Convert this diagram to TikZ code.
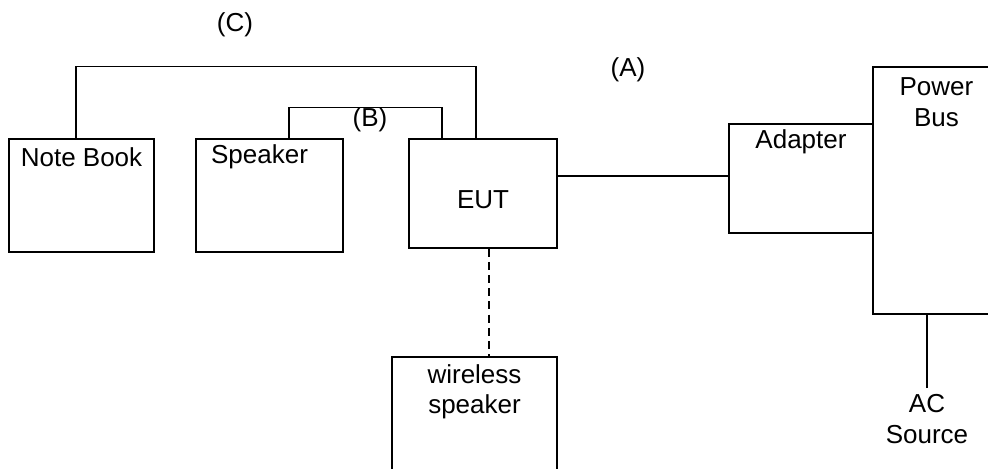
\documentclass[tikz,border=0pt]{standalone}
\usepackage{fontspec}
\setmainfont{Liberation Sans}
\usepackage{tikz}
\usetikzlibrary{positioning}

\begin{document}
\begin{tikzpicture}[x=0.02cm, y=-0.02cm,
		every node/.style={font=\fontsize{14.8}{17.6}\selectfont},
		unit/.style={draw, rectangle, line width=0.85pt, inner sep=0pt},
		wire/.style={line width=0.85pt},
		radio/.style={line width=0.85pt, dash pattern=on 4.5pt off 3pt}]
			% Fix the page to the size of the reference
			\useasboundingbox (0, 0) rectangle (988, 468);
			
			% Boxes of the test setup
			\node[unit, minimum width=2.9cm, minimum height=2.26cm,
				label={[anchor=center, yshift=-0.38cm]north:Note Book}] (notebook) at (81.5, 195.5) {};
			\node[unit, minimum width=2.94cm, minimum height=2.26cm,
				label={[anchor=center, xshift=-0.2cm, yshift=-0.38cm]north:Speaker}] (speaker) at (269.5, 195.5) {};
			\node[unit, minimum width=2.96cm, minimum height=2.18cm,
				label={[anchor=center, yshift=-1.22cm]north:EUT}] (eut) at (483, 193.5) {};
			\node[unit, minimum width=2.88cm, minimum height=2.18cm,
				label={[anchor=center, yshift=-0.38cm]north:Adapter}] (adapter) at (801, 178.5) {};
			\node[unit, minimum width=2.54cm, minimum height=4.94cm,
				label={[anchor=center, align=center, yshift=-0.71cm]north:Power\\Bus}] (powerbus) at (936.5, 190.5) {};
			\node[unit, minimum width=3.3cm, minimum height=2.6cm,
				label={[anchor=center, align=center, yshift=-0.71cm]north:wireless\\speaker}] (wlspeaker) at (474.5, 422) {};
			\node[align=center] (acsource) at (927, 419) {AC\\Source};
			
			% Cables
			\draw[wire] ([xshift=-0.11cm]notebook.north) |- ([xshift=-0.14cm, yshift=1.44cm]eut.north) -- ([xshift=-0.14cm]eut.north);
			\draw[wire] ([xshift=0.39cm]speaker.north) |- ([xshift=-0.82cm, yshift=0.62cm]eut.north) -- ([xshift=-0.82cm]eut.north);
			\draw[wire] ([yshift=0.05cm]adapter.west) -- ([yshift=0.05cm]adapter.west -| eut.east);
			\draw[wire] (acsource.north) -- (acsource.north |- powerbus.south);
			\draw[radio] ([xshift=0.12cm]eut.south) -- ([xshift=0.12cm]eut.south |- wlspeaker.north);
			
			% Cable labels
			\node (cableC) at (235, 25) {(C)};
			\node (cableA) at (628, 70) {(A)};
			\node (cableB) at (370, 120) {(B)};
			
		\end{tikzpicture}
\end{document}
